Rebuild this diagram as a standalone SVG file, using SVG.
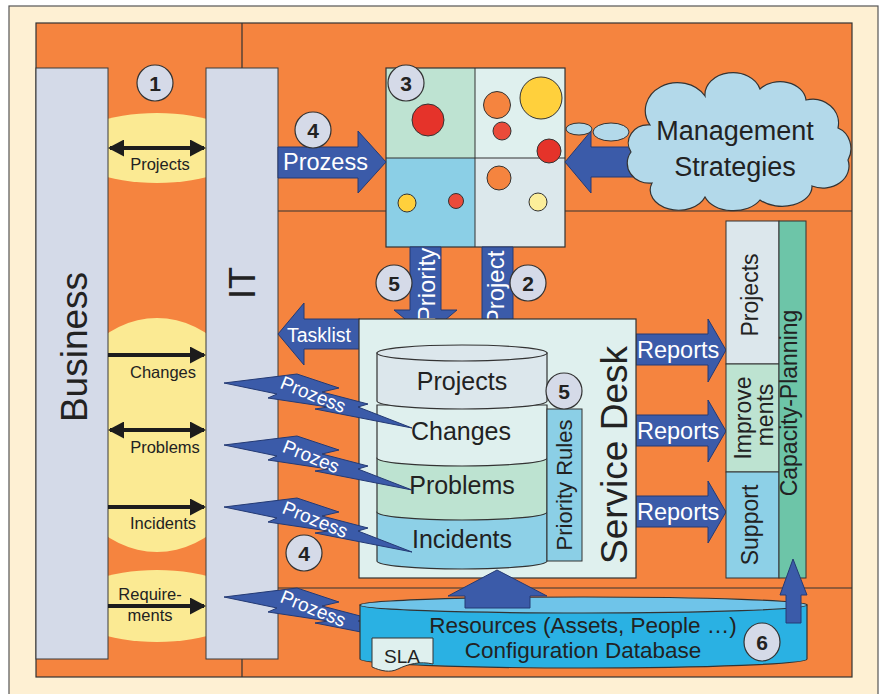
<svg xmlns="http://www.w3.org/2000/svg" width="882" height="694" viewBox="0 0 882 694">
  <defs>
    <style>
      text { font-family: "Liberation Sans", Arial, sans-serif; fill: #222; }
      .frame { fill: #FEF0D3; stroke: #555; stroke-width: 1.2; }
      .field { fill: #F5843F; stroke: #333; stroke-width: 1.2; }
      .sep { stroke: #333; stroke-width: 1.2; fill: none; }
      .glow { fill: #FBEA93; }
      .col { fill: #D4DAE8; stroke: #3a3a3a; stroke-width: 1; }
      .blue { fill: #3B5BA9; stroke: #243a74; stroke-width: 1; }
      .flow { stroke: #1c1c1c; stroke-width: 4; fill: none; }
      .wt { fill: #fff; }
      .num circle, .num ellipse { fill: #D5DAE8; stroke: #333; stroke-width: 1.2; }
      .num text { font-weight: bold; font-size: 21px; text-anchor: middle; fill: #222; }
      .dot { stroke: #333; stroke-width: 1; }
      .ln { stroke: #333; stroke-width: 1; }
      .mid { text-anchor: middle; }
    </style>
    <marker id="head" viewBox="0 0 16 17" markerUnits="userSpaceOnUse" markerWidth="16" markerHeight="17" refX="14" refY="8.5" orient="auto-start-reverse">
      <path d="M0,0 L16,8.5 L0,17 z" fill="#1c1c1c"/>
    </marker>
    <!-- jagged "lightning" flow arrow, drawn from its left tip -->
    <polygon id="bolt" class="blue" points="0,0 73,-9 115,5 98,9 144,21 134,24 188,45 91,26 104,24 44,15 53,11"/>
  </defs>

  <!-- page background and working field -->
  <rect class="frame" x="9" y="6" width="869" height="700"/>
  <rect class="field" x="36" y="23" width="816" height="654"/>
  <path class="sep" d="M242,23 V68 M242,659 V677 M278,211 H852 M278,588 H852"/>

  <!-- interface zones between Business and IT -->
  <g id="zones">
    <ellipse class="glow" cx="157" cy="148" rx="90" ry="35"/>
    <ellipse class="glow" cx="157" cy="435" rx="100" ry="117"/>
    <ellipse class="glow" cx="157" cy="606" rx="90" ry="36"/>
  </g>

  <g id="business">
    <rect class="col" x="36" y="68" width="72" height="591"/>
    <text transform="translate(87,347) rotate(-90)" class="mid" font-size="37">Business</text>
  </g>
  <g id="it">
    <rect class="col" x="206" y="68" width="72" height="591"/>
    <text transform="translate(255,283) rotate(-90)" class="mid" font-size="36">IT</text>
  </g>

  <!-- priority matrix -->
  <g id="matrix">
    <rect x="386" y="68" width="89" height="90" fill="#BEE3D2"/>
    <rect x="475" y="68" width="90" height="90" fill="#DFF0EE"/>
    <rect x="386" y="158" width="89" height="89" fill="#8BCFE6"/>
    <rect x="475" y="158" width="90" height="89" fill="#DCE8EC"/>
    <rect x="386" y="68" width="179" height="179" fill="none" stroke="#333" stroke-width="1.2"/>
    <path class="ln" d="M475,68 V247 M386,158 H565" stroke-width="1.2"/>
    <circle class="dot" cx="428" cy="120" r="16" fill="#E5332A"/>
    <circle class="dot" cx="497" cy="105" r="13.5" fill="#F5843F"/>
    <circle class="dot" cx="541" cy="98" r="21" fill="#FFD03C"/>
    <circle class="dot" cx="502" cy="131" r="9" fill="#EA4B3A"/>
    <circle class="dot" cx="549" cy="151" r="12" fill="#E5332A"/>
    <circle class="dot" cx="407" cy="203" r="9" fill="#FFD03C"/>
    <circle class="dot" cx="456" cy="201" r="7.5" fill="#EA4B3A"/>
    <circle class="dot" cx="499" cy="178" r="12" fill="#F5843F"/>
    <circle class="dot" cx="538" cy="202" r="9" fill="#FCEE9A"/>
  </g>

  <!-- connectors -->
  <g id="connectors">
    <!-- Business / IT exchanges -->
    <line class="flow" x1="110" y1="148" x2="204" y2="148" marker-start="url(#head)" marker-end="url(#head)"/>
    <line class="flow" x1="108" y1="355" x2="204" y2="355" marker-end="url(#head)"/>
    <line class="flow" x1="110" y1="430" x2="204" y2="430" marker-start="url(#head)" marker-end="url(#head)"/>
    <line class="flow" x1="108" y1="507" x2="204" y2="507" marker-end="url(#head)"/>
    <line class="flow" x1="108" y1="606" x2="204" y2="606" marker-end="url(#head)"/>

    <!-- process into the matrix -->
    <polygon class="blue" points="278,147 358,147 358,131 386,162 358,193 358,178 278,178"/>
    <!-- strategies into the matrix -->
    <polygon class="blue" points="660,147 591,147 591,131 565,162 591,193 591,177 660,177"/>
    <!-- matrix down into the service desk -->
    <polygon class="blue" points="410,247 441,247 441,310 457,310 426,336 394,310 410,310"/>
    <polygon class="blue" points="482,247 513,247 513,335 528,335 497,361 466,335 482,335"/>
    <!-- tasklist back to IT -->
    <polygon class="blue" points="360,319 304,319 304,303 278,334 304,365 304,349 360,349"/>
    <!-- reports -->
    <polygon class="blue" points="636,334 708,334 708,319 726,350 708,382 708,365 636,365"/>
    <polygon class="blue" points="636,415 708,415 708,400 726,431 708,462 708,446 636,446"/>
    <polygon class="blue" points="636,496 708,496 708,481 726,512 708,543 708,527 636,527"/>
  </g>

  <g id="priority-label">
    <text transform="translate(435,285) rotate(-90)" class="mid wt" font-size="24">Priority</text>
  </g>
  <g id="project-label">
    <text transform="translate(504,288) rotate(-90)" class="mid wt" font-size="24">Project</text>
  </g>

  <g id="labels">
    <text x="160" y="170" class="mid" font-size="16.5">Projects</text>
    <text x="163" y="378" class="mid" font-size="16.5">Changes</text>
    <text x="165" y="453" class="mid" font-size="16.5">Problems</text>
    <text x="163" y="529" class="mid" font-size="16.5">Incidents</text>
    <text x="150" y="600" class="mid" font-size="16.5">Require-</text>
    <text x="150" y="621" class="mid" font-size="16.5">ments</text>
    <text x="283" y="170" class="wt" font-size="23.5">Prozess</text>
    <text x="287" y="342" class="wt" font-size="19.5">Tasklist</text>
    <text x="637" y="358" class="wt" font-size="23.5">Reports</text>
    <text x="637" y="439" class="wt" font-size="23.5">Reports</text>
    <text x="637" y="520" class="wt" font-size="23.5">Reports</text>
  </g>

  <!-- management strategies -->
  <g id="strategies">
    <ellipse cx="579" cy="129" rx="13" ry="6" fill="#B3D9EA" stroke="#333" stroke-width="1"/>
    <ellipse cx="611" cy="132" rx="18" ry="9" fill="#B3D9EA" stroke="#333" stroke-width="1"/>
    <path d="M650,125 A30,26 0 0 1 705,96 A28,22 0 0 1 760,89 A26,20 0 0 1 806,100 A26,24 0 0 1 838,128 A20,22 0 0 1 848,160 A26,22 0 0 1 812,186 A30,20 0 0 1 760,200 A30,20 0 0 1 705,197 A28,20 0 0 1 652,183 A22,20 0 0 1 631,152 A20,18 0 0 1 650,125 Z" fill="#B3D9EA" stroke="#333" stroke-width="1.2"/>
    <text x="735" y="140" class="mid" font-size="27">Management</text>
    <text x="735" y="176" class="mid" font-size="27">Strategies</text>
  </g>

  <!-- service desk -->
  <g id="service-desk">
    <rect x="359" y="319" width="277" height="259" fill="#DFF0EE" stroke="#333" stroke-width="1.2"/>
    <text transform="translate(627,455) rotate(-90)" class="mid" font-size="37">Service Desk</text>
  </g>

  <!-- ticket store -->
  <g id="ticket-store" stroke="#333" stroke-width="1.2">
    <path d="M377,512 V561 A85,8 0 0 0 547,561 V512 Z" fill="#8DD0E7"/>
    <path d="M377,458 V512 A85,8 0 0 0 547,512 V458 Z" fill="#BDE3D1"/>
    <path d="M377,405 V458 A85,8 0 0 0 547,458 V405 Z" fill="#DFF0EE"/>
    <path d="M377,353 V401 A85,8 0 0 0 547,401 V353 Z" fill="#DCE7EC"/>
    <ellipse cx="462" cy="353" rx="85" ry="8" fill="#DCE7EC"/>
  </g>
  <g id="store-labels">
    <text x="462" y="390" class="mid" font-size="25">Projects</text>
    <text x="461" y="440" class="mid" font-size="25">Changes</text>
    <text x="462" y="494" class="mid" font-size="25">Problems</text>
    <text x="462" y="548" class="mid" font-size="25">Incidents</text>
  </g>

  <g id="priority-rules">
    <rect x="547" y="409" width="35" height="152" fill="#8BCFE6" stroke="#333" stroke-width="1"/>
    <text transform="translate(572,485) rotate(-90)" class="mid" font-size="22">Priority Rules</text>
  </g>

  <!-- process flows from IT -->
  <g id="process-flows">
    <use href="#bolt" x="224" y="383"/>
    <use href="#bolt" x="224" y="445"/>
    <use href="#bolt" x="224" y="507"/>
    <use href="#bolt" x="224" y="597"/>
    <text transform="translate(313,395) rotate(22)" class="mid wt" font-size="19" y="6">Prozess</text>
    <text transform="translate(311,457) rotate(22)" class="mid wt" font-size="19" y="6">Prozes</text>
    <text transform="translate(315,520) rotate(22)" class="mid wt" font-size="19" y="6">Prozess</text>
    <text transform="translate(313,609) rotate(22)" class="mid wt" font-size="19" y="6">Prozess</text>
  </g>

  <!-- follow-up work -->
  <g id="follow-up">
    <rect x="726" y="221" width="53" height="143" fill="#DCE7EC" stroke="#333" stroke-width="1"/>
    <rect x="726" y="364" width="53" height="108" fill="#BDE3D1" stroke="#333" stroke-width="1"/>
    <rect x="726" y="472" width="53" height="106" fill="#8DD0E7" stroke="#333" stroke-width="1"/>
    <rect x="779" y="221" width="27" height="357" fill="#6DC5A8" stroke="#333" stroke-width="1"/>
    <text transform="translate(758,295) rotate(-90)" class="mid" font-size="23">Projects</text>
    <text transform="translate(751,418) rotate(-90)" class="mid" font-size="23">Improve</text>
    <text transform="translate(773,415) rotate(-90)" class="mid" font-size="23">ments</text>
    <text transform="translate(758,525) rotate(-90)" class="mid" font-size="23">Support</text>
    <text transform="translate(797,403) rotate(-90)" class="mid" font-size="23">Capacity-Planning</text>
  </g>

  <!-- configuration database -->
  <g id="cmdb">
    <path d="M360,605 V659 A223.5,9 0 0 0 807,659 V605 Z" fill="#2AB1E3" stroke="#333" stroke-width="1.2"/>
    <ellipse cx="583.5" cy="605" rx="223.5" ry="8" fill="#6FC4E9" stroke="#333" stroke-width="1.2"/>
    <text x="583" y="633" class="mid" font-size="22.5">Resources (Assets, People …)</text>
    <text x="583" y="658" class="mid" font-size="22.5">Configuration Database</text>
  </g>
  <g id="cmdb-links">
    <polygon class="blue" points="465,608 465,596 448,596 497,570 547,596 530,596 530,608"/>
    <polygon class="blue" points="786,623 786,595 780,595 793,559 807,595 801,595 801,623"/>
  </g>

  <g id="sla">
    <path d="M372,638 H433 V664 C420,661 408,664 398,669 C390,673 381,671 372,667 Z" fill="#DFF0EE" stroke="#333" stroke-width="1"/>
    <text x="402" y="663" class="mid" font-size="19">SLA</text>
  </g>

  <!-- step numbers -->
  <g id="step-1" class="num"><circle cx="155" cy="83" r="18"/><text x="155" y="90.5">1</text></g>
  <g id="step-2" class="num"><circle cx="528" cy="283" r="18"/><text x="528" y="290.5">2</text></g>
  <g id="step-3" class="num"><circle cx="406" cy="83" r="18"/><text x="406" y="90.5">3</text></g>
  <g id="step-4a" class="num"><circle cx="313" cy="130" r="18"/><text x="313" y="137.5">4</text></g>
  <g id="step-4b" class="num"><circle cx="304" cy="553" r="18"/><text x="304" y="560.5">4</text></g>
  <g id="step-5a" class="num"><circle cx="394" cy="283" r="18"/><text x="394" y="290.5">5</text></g>
  <g id="step-5b" class="num"><circle cx="564" cy="391" r="18"/><text x="564" y="398.5">5</text></g>
  <g id="step-6" class="num"><ellipse cx="762" cy="642" rx="18" ry="19"/><text x="762" y="649.5">6</text></g>
</svg>
